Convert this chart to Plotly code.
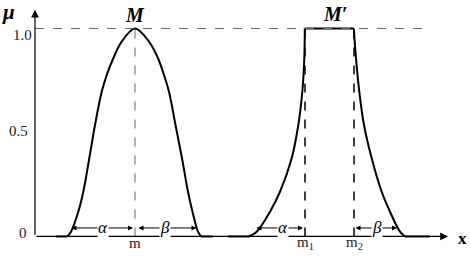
import plotly.graph_objects as go

# ---- data (x in arbitrary units, mu membership grade) ----
c1_x = [3.23, 3.6, 4.33, 4.83, 5.43, 6.0, 6.67, 7.17, 7.83, 8.67, 10.0,
        11.4, 12.3, 12.9, 13.4, 14.05, 14.7, 15.3, 15.75, 16.3, 16.6]
c1_mu = [0, 0.023, 0.119, 0.215, 0.376, 0.536, 0.696, 0.776, 0.857, 0.937, 1.0,
         0.937, 0.857, 0.776, 0.696, 0.536, 0.376, 0.215, 0.119, 0.023, 0]
c1_base_left_x = [2.1, 3.23]
c1_base_right_x = [16.6, 17.8]

c2_left_x = [21.4, 22.17, 23.5, 24.5, 25.67, 26.33, 26.73, 26.93, 26.98]
c2_left_mu = [0, 0.023, 0.119, 0.215, 0.376, 0.536, 0.696, 0.857, 1.0]
c2_top_x = [26.98, 31.88]
c2_right_x = [31.88, 32.1, 32.43, 32.9, 33.67, 34.67, 35.5, 36.5, 37.0]
c2_right_mu = [1.0, 0.857, 0.696, 0.536, 0.376, 0.215, 0.119, 0.023, 0]
c2_base_left_x = [19.3, 21.4]
c2_base_right_x = [37.0, 39.5]

m, m1, m2 = 10.0, 27.0, 31.9
y_tick_labels = ["1.0", "0.5", "0"]

SERIF = "Liberation Serif"
fig = go.Figure()

line = dict(color="black", width=2)
spl = dict(color="black", width=2, shape="spline", smoothing=1.0)
fig.add_trace(go.Scatter(x=c1_x, y=c1_mu, mode="lines", line=spl))
for bx in (c1_base_left_x, c1_base_right_x, c2_base_left_x, c2_base_right_x):
    fig.add_trace(go.Scatter(x=bx, y=[0, 0], mode="lines", line=line))
fig.add_trace(go.Scatter(x=c2_left_x, y=c2_left_mu, mode="lines", line=spl))
fig.add_trace(go.Scatter(x=c2_top_x, y=[1.0, 1.0], mode="lines", line=line))
fig.add_trace(go.Scatter(x=c2_right_x, y=c2_right_mu, mode="lines", line=spl))

# dashed reference lines
fig.add_trace(go.Scatter(x=[0, 38.8], y=[1, 1], mode="lines",
                         line=dict(color="#666", width=1, dash="dash")))
fig.add_trace(go.Scatter(x=[m, m], y=[0, 1], mode="lines",
                         line=dict(color="#666", width=1, dash="dash")))
for xv in (m1, m2):
    fig.add_trace(go.Scatter(x=[xv, xv], y=[0, 1], mode="lines",
                             line=dict(color="black", width=1.5, dash="dash")))

ann = []
# axes with arrowheads
ann.append(dict(x=0, y=1.09, ax=0, ay=0, axref="x", ayref="y", xref="x", yref="y",
                showarrow=True, arrowhead=2, arrowsize=1.3, arrowwidth=1.2, arrowcolor="black", text=""))
ann.append(dict(x=41.3, y=0, ax=0, ay=0, axref="x", ayref="y", xref="x", yref="y",
                showarrow=True, arrowhead=2, arrowsize=1.3, arrowwidth=1.2, arrowcolor="black", text=""))

# alpha / beta double arrows
spans = [(3.5, 9.8, "α", 6.8), (10.2, 16.15, "β", 13.0),
         (22.0, 26.8, "α", 24.8), (31.9, 36.2, "β", 34.17)]
for x0, x1, lab, xt in spans:
    ann.append(dict(x=x1, y=0.041, ax=x0, ay=0.041, axref="x", ayref="y", xref="x", yref="y",
                    showarrow=True, arrowhead=2, startarrowhead=2, arrowside="end+start",
                    arrowsize=1.0, startarrowsize=1.0, arrowwidth=1, arrowcolor="black", text=""))
    ann.append(dict(x=xt, y=0.045, xref="x", yref="y", showarrow=False,
                    text="<i>%s</i>" % lab, bgcolor="white", borderpad=0,
                    font=dict(family=SERIF, size=17, color="black")))

# tick labels
tick_pos = [(-1.3, 0.969), (-1.65, 0.509), (-1.2, 0.017)]
for (tx, ty), lab in zip(tick_pos, y_tick_labels):
    ann.append(dict(x=tx, y=ty, xref="x", yref="y", showarrow=False, text=lab,
                    font=dict(family=SERIF, size=15, color="#222")))

# x labels
for xv, lab in [(m, "m"), (m1, "m<sub>1</sub>"), (m2, "m<sub>2</sub>")]:
    ann.append(dict(x=xv, y=-0.033, xref="x", yref="y", showarrow=False, text=lab,
                    font=dict(family=SERIF, size=15, color="#222")))

ann.append(dict(x=42.7, y=-0.01, xref="x", yref="y", showarrow=False, text="<b>x</b>",
                font=dict(family=SERIF, size=17, color="black")))
ann.append(dict(x=-2.7, y=1.078, xref="x", yref="y", showarrow=False, text="<b><i>μ</i></b>",
                font=dict(family=SERIF, size=21, color="black")))
ann.append(dict(x=m, y=1.065, xref="x", yref="y", showarrow=False, text="<b><i>M</i></b>",
                font=dict(family=SERIF, size=20, color="black")))
ann.append(dict(x=30.0, y=1.068, xref="x", yref="y", showarrow=False, text="<b><i>M′</i></b>",
                font=dict(family=SERIF, size=20, color="black")))

fig.update_layout(
    width=471, height=266, margin=dict(l=0, r=0, t=0, b=0),
    paper_bgcolor="white", plot_bgcolor="white", showlegend=False,
    annotations=ann,
    xaxis=dict(range=[-3.5, 43.6], visible=False, fixedrange=True),
    yaxis=dict(range=[-0.142, 1.137], visible=False, fixedrange=True),
)
fig.write_html("out.html")
